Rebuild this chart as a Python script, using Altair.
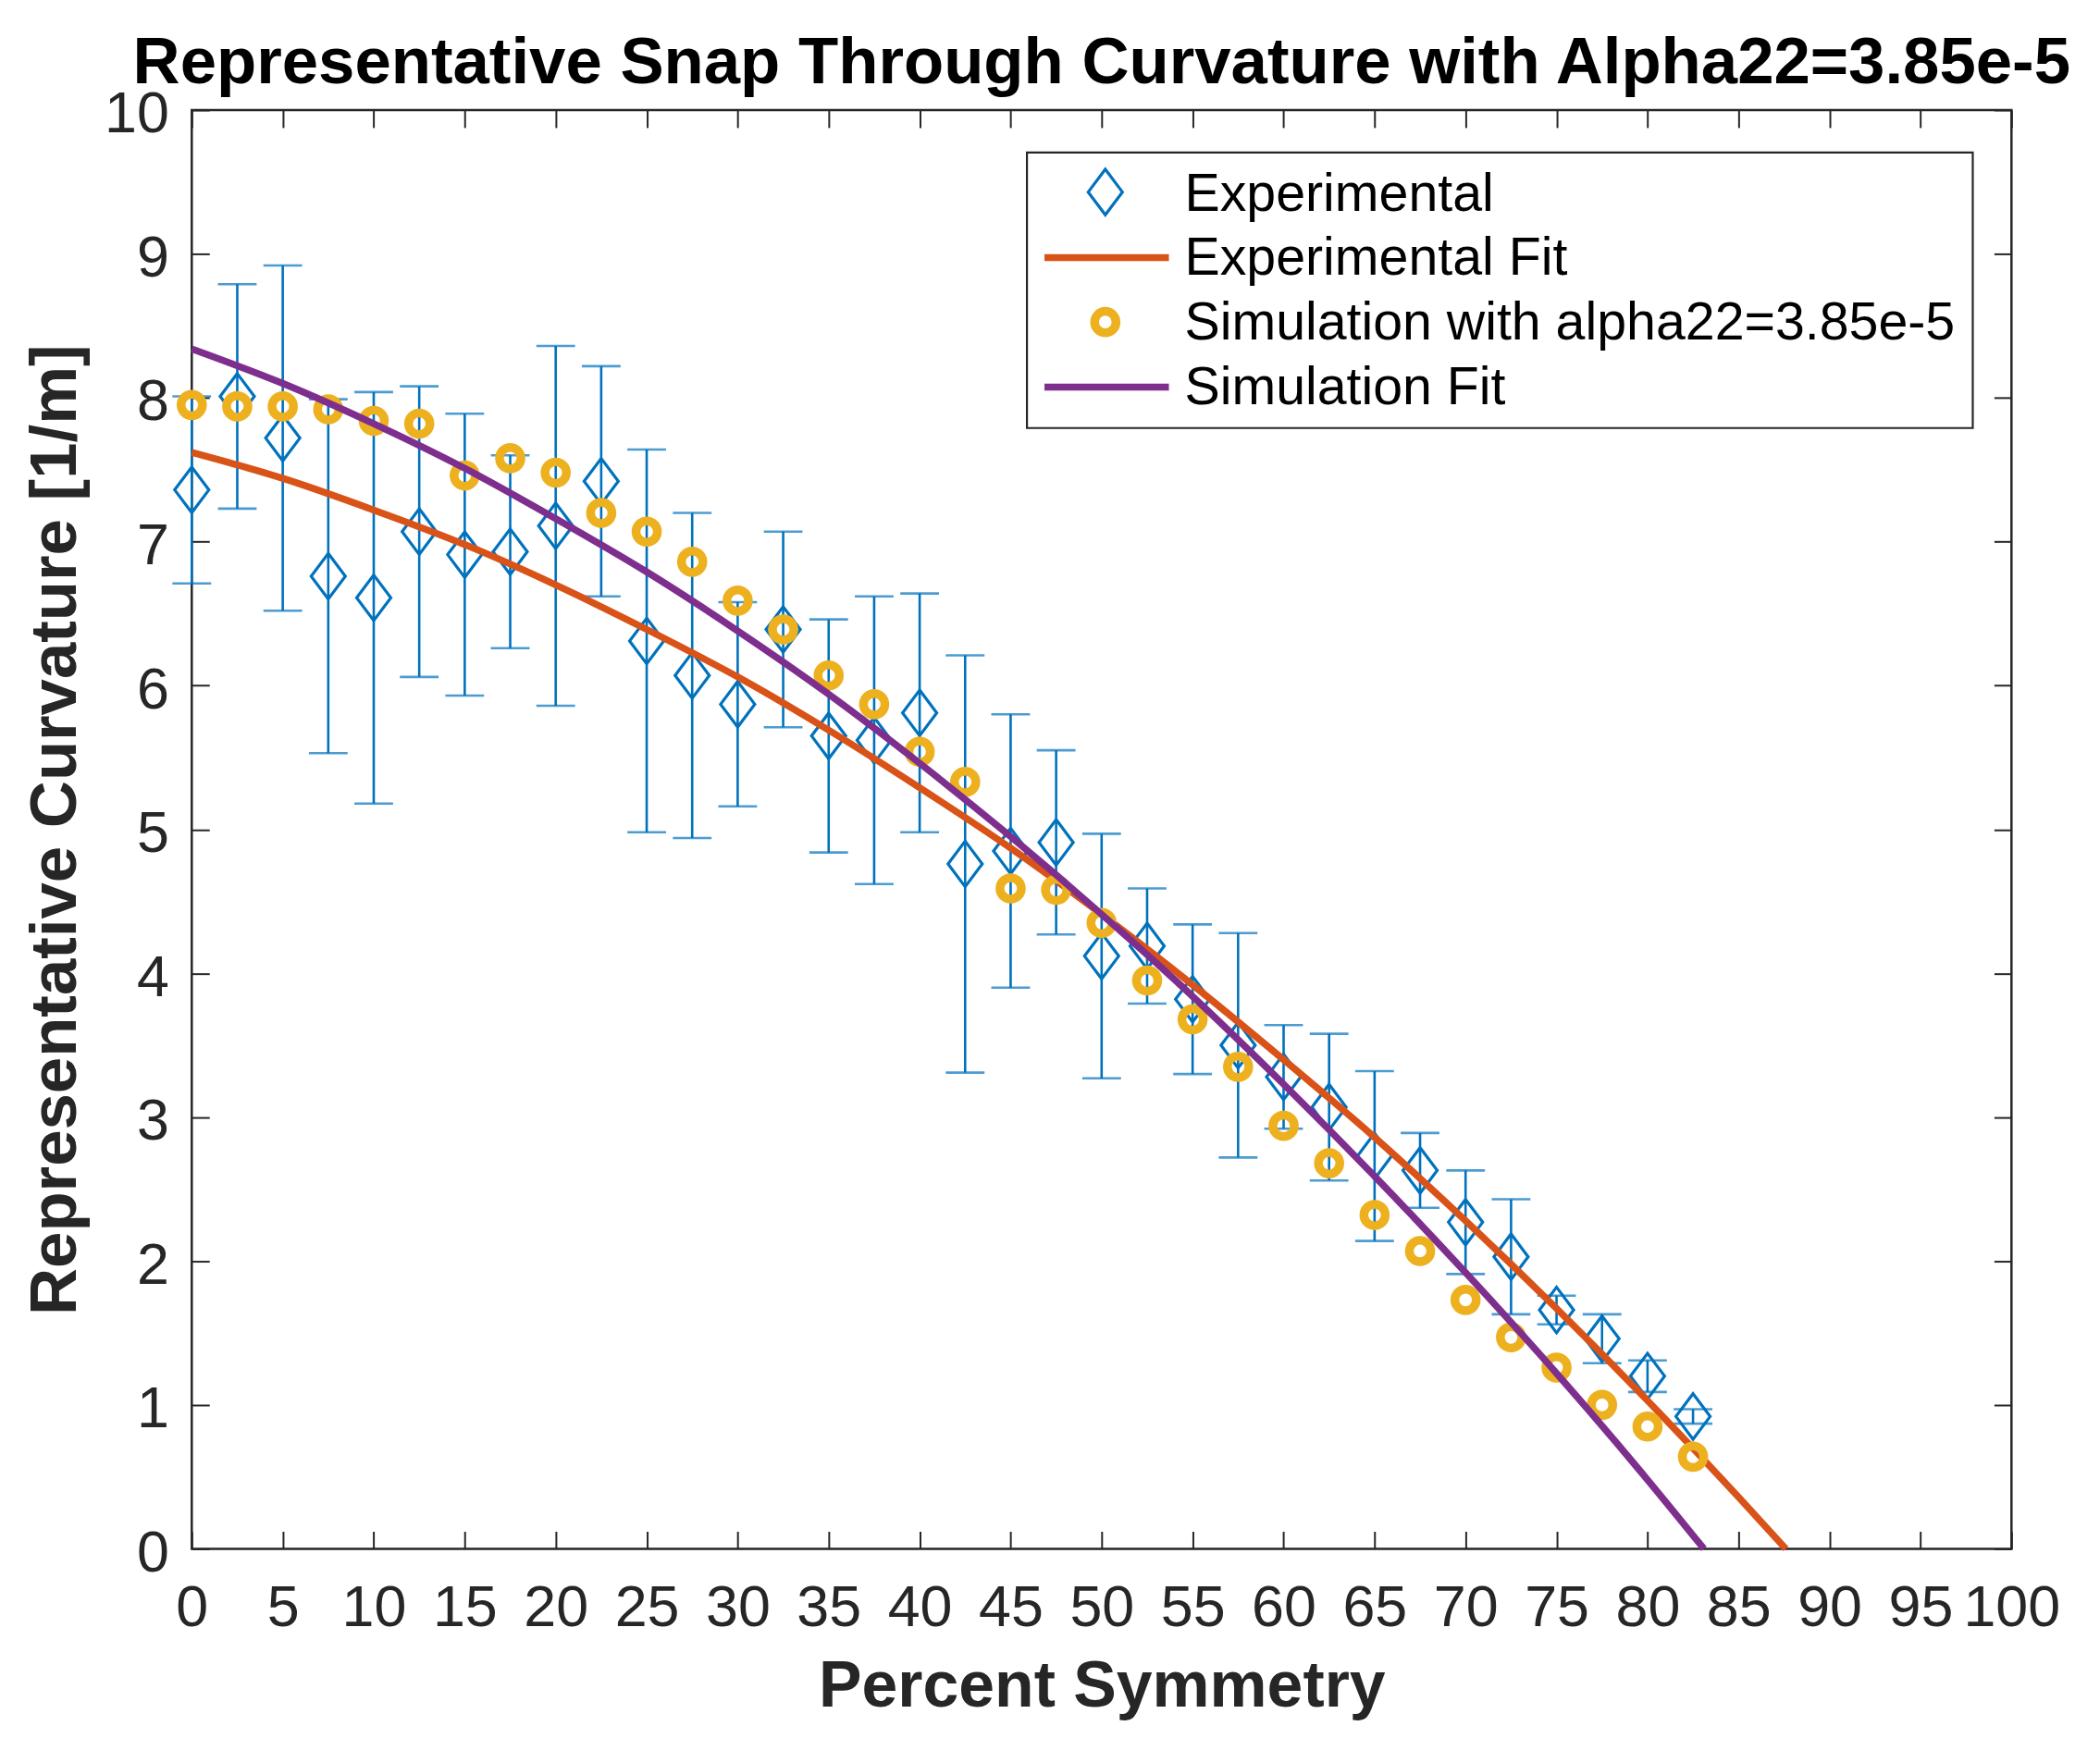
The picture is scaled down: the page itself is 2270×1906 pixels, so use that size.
import altair as alt
import pandas as pd

# ---------------- data ----------------
x_pct = [0, 2.5, 5, 7.5, 10, 12.5, 15, 17.5, 20, 22.5, 25, 27.5, 30, 32.5, 35, 37.5,
         40, 42.5, 45, 47.5, 50, 52.5, 55, 57.5, 60, 62.5, 65, 67.5, 70, 72.5, 75,
         77.5, 80, 82.5]
exp_curv = [7.36, 8.01, 7.72, 6.76, 6.61, 7.07, 6.91, 6.93, 7.11, 7.42, 6.31, 6.07,
            5.87, 6.39, 5.65, 5.62, 5.81, 4.76, 4.85, 4.91, 4.12, 4.19, 3.82, 3.50,
            3.28, 3.07, 2.73, 2.63, 2.27, 2.03, 1.66, 1.46, 1.20, 0.92]
exp_err = [0.65, 0.78, 1.20, 1.23, 1.43, 1.01, 0.98, 0.67, 1.25, 0.80, 1.33, 1.13,
           0.71, 0.68, 0.81, 1.00, 0.83, 1.45, 0.95, 0.64, 0.85, 0.40, 0.52, 0.78,
           0.36, 0.51, 0.59, 0.26, 0.36, 0.40, 0.10, 0.17, 0.11, 0.05]
sim_curv = [7.95, 7.94, 7.94, 7.92, 7.84, 7.82, 7.46, 7.58, 7.48, 7.20, 7.07, 6.86,
            6.59, 6.39, 6.07, 5.87, 5.54, 5.33, 4.59, 4.58, 4.35, 3.95, 3.68, 3.35,
            2.94, 2.68, 2.32, 2.07, 1.73, 1.47, 1.26, 1.00, 0.85, 0.64]
exp_fit_x = [0, 5, 10, 15, 20, 25, 30, 35, 40, 45, 50, 55, 60, 65, 70, 75, 80, 85, 87.6]
exp_fit_y = [7.62, 7.44, 7.22, 6.98, 6.70, 6.39, 6.06, 5.69, 5.29, 4.87, 4.41, 3.92,
             3.40, 2.86, 2.28, 1.67, 1.03, 0.36, 0.0]
sim_fit_x = [0, 5, 10, 15, 20, 25, 30, 35, 40, 45, 50, 55, 60, 65, 70, 75, 80, 83.1]
sim_fit_y = [8.34, 8.10, 7.82, 7.51, 7.16, 6.79, 6.38, 5.94, 5.46, 4.95, 4.41, 3.84,
             3.23, 2.59, 1.92, 1.22, 0.48, 0.0]
x_ticks = list(range(0, 101, 5))
y_ticks = list(range(0, 11))

legend_labels = ["Experimental", "Experimental Fit",
                 "Simulation with alpha22=3.85e-5", "Simulation Fit"]

# ---------------- style ----------------
W, H = 1974, 1561
TL = 19
FONT = "Liberation Sans"
AX = "#262626"
BLUE = "#0072BD"
ORANGE = "#D95319"
YELLOW = "#EDB120"
PURPLE = "#7E2F8E"
DIAMOND = "M0,-1L0.75,0L0,1L-0.75,0Z"
DIA_SIZE = 2450
DIA_SW = 3.2
CIRC_SIZE = 540
CIRC_SW = 9.5
FIT_SW = 7.5
TICK_FS = 63

exp_df = pd.DataFrame({"x": x_pct, "y": exp_curv, "err": exp_err})
exp_df["lo"] = exp_df["y"] - exp_df["err"]
exp_df["hi"] = exp_df["y"] + exp_df["err"]
sim_df = pd.DataFrame({"x": x_pct, "y": sim_curv})
efit_df = pd.DataFrame({"x": exp_fit_x, "y": exp_fit_y})
sfit_df = pd.DataFrame({"x": sim_fit_x, "y": sim_fit_y})
one = pd.DataFrame({"k": [0]})

xs = alt.Scale(domain=[0, 100], nice=False, zero=False)
ys = alt.Scale(domain=[0, 10], nice=False, zero=False)

common_ax = dict(offset=-TL, tickSize=TL, domain=False, grid=False, tickColor=AX,
                 tickWidth=2, labelFont=FONT, labelColor=AX, labelOverlap=False,
                 labelFlush=False)

x_bottom = alt.Axis(orient="bottom", values=x_ticks, labelFontSize=TICK_FS,
                    labelBaseline="alphabetic", labelPadding=83,
                    title="Percent Symmetry", titleFont=FONT, titleFontSize=70,
                    titleFontWeight="bold", titleColor=AX, titleBaseline="alphabetic",
                    titleX=W / 2, titleY=190, titleAlign="center", **common_ax)
y_left = alt.Axis(orient="left", values=y_ticks, labelFontSize=TICK_FS,
                  labelBaseline="alphabetic", labelOffset=24, labelPadding=25,
                  title="Representative Curvature [1/m]", titleFont=FONT, titleFontSize=71,
                  titleFontWeight="bold", titleColor=AX, titleBaseline="alphabetic",
                  titleAngle=270, titleX=-145, titleY=H / 2, titleAlign="center",
                  **common_ax)
x_top = alt.Axis(orient="top", values=x_ticks, labels=False, title=None, **common_ax)
y_right = alt.Axis(orient="right", values=y_ticks, labels=False, title=None, **common_ax)

err_bars = alt.Chart(exp_df).mark_rule(color=BLUE, strokeWidth=2.6).encode(
    x=alt.X("x:Q", scale=xs, axis=None),
    y=alt.Y("lo:Q", scale=ys, axis=None),
    y2="hi:Q",
)
caps = alt.Chart(exp_df).transform_fold(["lo", "hi"], as_=["end", "v"]).mark_tick(
    color=BLUE, orient="horizontal", size=42, thickness=2.6
).encode(
    x=alt.X("x:Q", scale=xs, axis=None),
    y=alt.Y("v:Q", scale=ys, axis=None),
)
exp_pts = alt.Chart(exp_df).mark_point(
    shape=DIAMOND, size=DIA_SIZE, filled=False, stroke=BLUE, strokeWidth=DIA_SW, opacity=1
).encode(
    x=alt.X("x:Q", scale=xs, axis=x_bottom),
    y=alt.Y("y:Q", scale=ys, axis=y_left),
)
efit = alt.Chart(efit_df).mark_line(color=ORANGE, strokeWidth=FIT_SW, interpolate="monotone").encode(
    x=alt.X("x:Q", scale=xs, axis=None),
    y=alt.Y("y:Q", scale=ys, axis=None),
)
sim_pts = alt.Chart(sim_df).mark_point(
    shape="circle", size=CIRC_SIZE, filled=False, stroke=YELLOW, strokeWidth=CIRC_SW, opacity=1
).encode(
    x=alt.X("x:Q", scale=xs, axis=x_top),
    y=alt.Y("y:Q", scale=ys, axis=y_right),
)
sfit = alt.Chart(sfit_df).mark_line(color=PURPLE, strokeWidth=FIT_SW, interpolate="monotone").encode(
    x=alt.X("x:Q", scale=xs, axis=None),
    y=alt.Y("y:Q", scale=ys, axis=None),
)

# ---------------- legend (drawn by hand, MATLAB style) ----------------
LX0, LX1, LY0, LY1 = 906, 1932, 46, 345
rows_base = [109, 179, 249, 319]
sym_y = [89, 160, 230, 300.5]
SYM_X = 991
LINE_X0, LINE_X1 = 925, 1060
TXT_X = 1077

leg_box = alt.Chart(one).mark_rect(fill="white", stroke=AX, strokeWidth=2.2).encode(
    x=alt.value(LX0), x2=alt.value(LX1), y=alt.value(LY0), y2=alt.value(LY1))
leg_dia = alt.Chart(one).mark_point(shape=DIAMOND, size=DIA_SIZE, filled=False, stroke=BLUE,
                                    strokeWidth=DIA_SW, opacity=1).encode(
    x=alt.value(SYM_X), y=alt.value(sym_y[0]))
leg_ofit = alt.Chart(one).mark_rule(color=ORANGE, strokeWidth=FIT_SW).encode(
    x=alt.value(LINE_X0), x2=alt.value(LINE_X1), y=alt.value(sym_y[1]))
leg_circ = alt.Chart(one).mark_point(shape="circle", size=CIRC_SIZE, filled=False, stroke=YELLOW,
                                     strokeWidth=CIRC_SW, opacity=1).encode(
    x=alt.value(SYM_X), y=alt.value(sym_y[2]))
leg_pfit = alt.Chart(one).mark_rule(color=PURPLE, strokeWidth=FIT_SW).encode(
    x=alt.value(LINE_X0), x2=alt.value(LINE_X1), y=alt.value(sym_y[3]))
leg_txt = [
    alt.Chart(one).mark_text(align="left", baseline="alphabetic", font=FONT, fontSize=57.5,
                             color="black").encode(
        x=alt.value(TXT_X), y=alt.value(rows_base[i]), text=alt.value(lab))
    for i, lab in enumerate(legend_labels)
]

chart = alt.layer(
    err_bars, caps, exp_pts, efit, sim_pts, sfit,
    leg_box, leg_dia, leg_ofit, leg_circ, leg_pfit, *leg_txt
).resolve_axis(x="independent", y="independent").properties(
    width=W, height=H,
    autosize=alt.AutoSizeParams(type="none"),
    padding={"left": 200, "top": 108, "right": 88, "bottom": 229},
    background="white",
    title=alt.TitleParams(
        "Representative Snap Through Curvature with Alpha22=3.85e-5",
        font=FONT, fontSize=71, fontWeight="bold", color="black",
        anchor="middle", offset=12, dy=24),
).configure_view(stroke=AX, strokeWidth=2.5)

chart.save("out.html", embed_options={"renderer": "svg", "actions": False})
